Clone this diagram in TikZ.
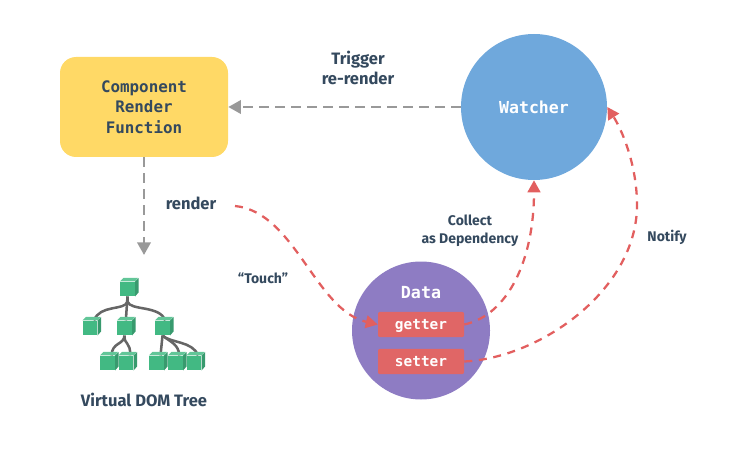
\documentclass[tikz,border=0pt]{standalone}
\usepackage{fontspec}
\setmainfont{Fira Sans}
\newfontfamily\codefont{DejaVu Sans Mono}
\usepackage{tikz}
\usetikzlibrary{arrows.meta,backgrounds}
\definecolor{inkblue}{HTML}{34495E}
\definecolor{boxyellow}{HTML}{FFD966}
\definecolor{watchblue}{HTML}{6FA8DC}
\definecolor{datapurple}{HTML}{8E7CC3}
\definecolor{getred}{HTML}{E06666}
\definecolor{flowred}{HTML}{E25F5F}
\definecolor{flowgray}{HTML}{999999}
\definecolor{cubefront}{HTML}{42B983}
\definecolor{cubetop}{HTML}{62C698}
\definecolor{cubeside}{HTML}{389A6E}
% one cube of the tree: front face is the node, the other two are filled round it
\newcommand{\domcube}[2]{
  \node [cube] (#1) at (#2) {};
  \fill [cubetop] (#1.north west) -- ++(3.5,-3.5) -- ++(14.5,0) -- (#1.north east) -- cycle;
  \fill [cubeside] (#1.north east) -- ++(3.5,-3.5) -- ++(0,14.5) -- (#1.south east) -- cycle;
}

\begin{document}
\begin{tikzpicture}[x=0.75pt,y=-0.75pt,>={Triangle[length=9.5pt,width=10pt]}]
  \tikzstyle{label}=[font=\bfseries\fontsize{12.4pt}{15pt}\selectfont,text=inkblue,align=center]
  \tikzstyle{small label}=[font=\bfseries\fontsize{10.5pt}{13.5pt}\selectfont,text=inkblue,align=center]
  \tikzstyle{code}=[font=\codefont\bfseries\fontsize{11.9pt}{15.2pt}\selectfont,align=center]
  \tikzstyle{accessor}=[rectangle,rounded corners=1.5pt,fill=getred,text=white,minimum width=64.5pt,minimum height=19pt,inner sep=0pt,text height=8.8pt,text depth=1pt,font=\codefont\bfseries\fontsize{10.8pt}{13pt}\selectfont]
  \tikzstyle{cube}=[rectangle,fill=cubefront,minimum size=10.9pt,inner sep=0pt]
  \tikzstyle{branch}=[draw=black!60,line width=1.9pt]
  \tikzstyle{grayflow}=[->,draw=flowgray,line width=2pt,dash pattern=on 7pt off 5pt]
  \tikzstyle{redflow}=[-{Triangle[length=9pt,width=9.5pt]},draw=flowred,line width=1.7pt,dash pattern=on 6pt off 5pt]
  \useasboundingbox (0,0) rectangle (753,456);

    \node [code,rectangle,rounded corners=12pt,fill=boxyellow,text=inkblue,minimum width=126pt,minimum height=75pt] (function) at (144,107) {Component\\Render\\Function};
    \node [code,circle,fill=watchblue,text=white,minimum size=109.5pt,font=\codefont\bfseries\fontsize{12.4pt}{15pt}\selectfont] (watcher) at (534,107) {Watcher};
    \node [circle,fill=datapurple,minimum size=103.5pt] (data) at (421,330.5) {};
    \node [code,text=white,font=\codefont\bfseries\fontsize{12.5pt}{15pt}\selectfont] (datatitle) at (421,293) {Data};
    \node [accessor] (getter) at (421,324.5) {getter};
    \node [accessor] (setter) at (421,361.5) {setter};

    \node [label] (trigger) at (358,68) {Trigger\\re-render};
    \node [label] (render) at (191,203) {render};
    \node [small label] (touch) at (263,278) {“Touch”};
    \node [small label] (collect) at (470,231) {Collect\\as Dependency};
    \node [small label] (notify) at (667,237) {Notify};
    \node [label] (treename) at (144,400) {Virtual DOM Tree};

    \domcube{root}{127.5,289}
    \domcube{left}{90,328}
    \domcube{mid}{124.5,328}
    \domcube{right}{162.5,328}
    \domcube{midA}{107.5,363}
    \domcube{midB}{126,363}
    \domcube{rightA}{156.5,363}
    \domcube{rightB}{175.5,363}
    \domcube{rightC}{194,363}

    \begin{scope}[on background layer]
      \draw [branch] (root.south) -- ++(0,5) .. controls (125,311) and (100,304) .. ([xshift=3pt]left.north);
      \draw [branch] (root.south) -- ([xshift=1pt]mid.north);
      \draw [branch] (root.south) -- ++(0,5) .. controls (130,311) and (160,305) .. ([xshift=2pt]right.north);
      \draw [branch] (mid.south) .. controls (124,345) and (112,342) .. ([xshift=3pt]midA.north);
      \draw [branch] (mid.south) .. controls (124,345) and (131,342) .. ([xshift=3pt]midB.north);
      \draw [branch] (right.south) -- ([xshift=3pt]rightA.north);
      \draw [branch] (right.south) .. controls (172,343) and (178,344) .. ([xshift=3pt]rightB.north);
      \draw [branch] (right.south) .. controls (170,343) and (193,341) .. ([xshift=3pt]rightC.north);
    \end{scope}

    \coordinate (renderfrom) at (235,206);
    \coordinate (notifybend) at (637,205);
    \draw [grayflow] (watcher.west) -- (function.east);
    \draw [grayflow] (function.south) -- (144,255);
    \draw [redflow] (renderfrom) .. controls (295,212) and (315,310) .. (getter.west);
    \draw [redflow] (getter.east) .. controls (508,315) and (534,260) .. (watcher.south);
    \draw [redflow] (setter.east) .. controls (540,358) and (637,290) .. (notifybend) .. controls (637,165) and (622,130) .. (watcher.east);
\end{tikzpicture}
\end{document}
